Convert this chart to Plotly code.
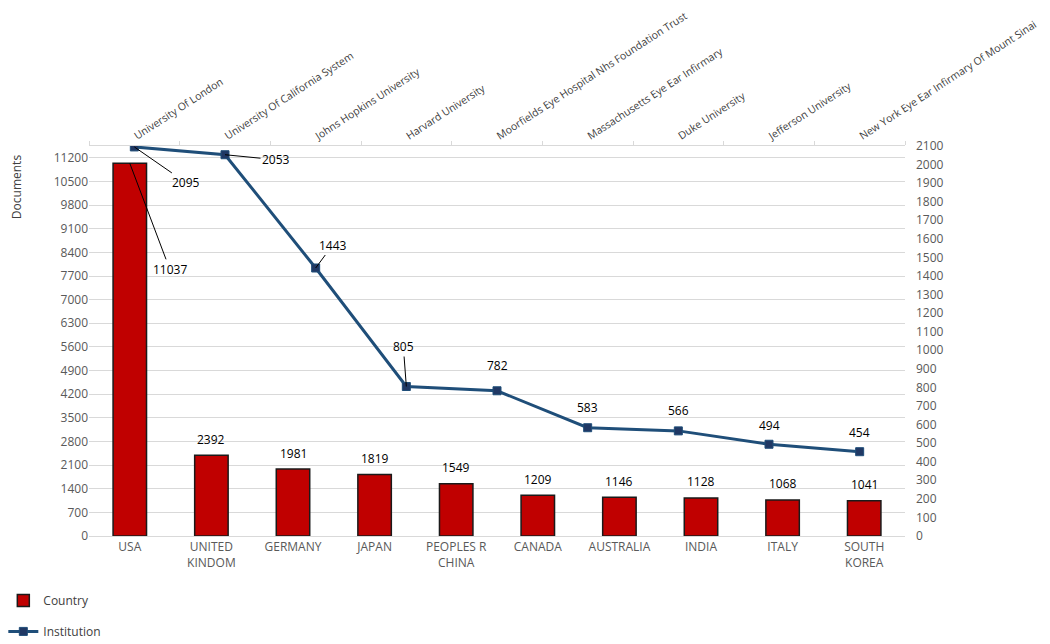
import plotly.graph_objects as go

countries = ["USA", "UNITED<br>KINDOM", "GERMANY", "JAPAN", "PEOPLES R<br>CHINA",
             "CANADA", "AUSTRALIA", "INDIA", "ITALY", "SOUTH<br>KOREA"]
country_docs = [11037, 2392, 1981, 1819, 1549, 1209, 1146, 1128, 1068, 1041]

institutions = ["University Of London", "University Of California System",
                "Johns Hopkins University", "Harvard University",
                "Moorfields Eye Hospital Nhs Foundation Trust",
                "Massachusetts Eye Ear Infirmary", "Duke University",
                "Jefferson University", "New York Eye Ear Infirmary Of Mount Sinai"]
inst_docs = [2095, 2053, 1443, 805, 782, 583, 566, 494, 454]

left_ticks = list(range(0, 11201, 700))
right_ticks = list(range(0, 2101, 100))

FONT = "Open Sans"
GREY = "#595959"

fig = go.Figure()
fig.add_trace(go.Bar(
    x=countries, y=country_docs, name="Country",
    marker=dict(color="#C00000", line=dict(color="#1a1a1a", width=1.5)),
    width=0.41, legendgroup="a",
))
fig.add_trace(go.Scatter(
    x=institutions, y=inst_docs, name="Institution", xaxis="x2", yaxis="y2",
    mode="lines+markers",
    line=dict(color="#1F4E79", width=3),
    marker=dict(symbol="square", size=8, color="#203864", line=dict(color="#1F4E79", width=1)),
    legendgroup="b",
))

ann = []
for i, (c, v) in enumerate(zip(countries, country_docs)):
    if i == 0:
        ann.append(dict(x=c, y=v, xref="x", yref="y", text=str(v), showarrow=True,
                        arrowhead=0, arrowwidth=1, arrowcolor="#000", ax=40, ay=106,
                        font=dict(size=12, color="#000", family=FONT)))
    else:
        ann.append(dict(x=c, y=v, xref="x", yref="y", text=str(v), showarrow=False,
                        yshift=16, font=dict(size=12, color="#000", family=FONT)))

offsets = [(52, 36, True), (51, 5, True), (17, -23, True), (-3, -40, True),
           (0, -25, False), (0, -20, False), (0, -20, False), (0, -19, False), (0, -19, False)]
for (name, v), (ax, ay, arr) in zip(zip(institutions, inst_docs), offsets):
    if arr:
        ann.append(dict(x=name, y=v, xref="x2", yref="y2", text=str(v), showarrow=True,
                        arrowhead=0, arrowwidth=1, arrowcolor="#000", ax=ax, ay=ay,
                        font=dict(size=12, color="#000", family=FONT)))
    else:
        ann.append(dict(x=name, y=v, xref="x2", yref="y2", text=str(v), showarrow=False,
                        yshift=-ay, font=dict(size=12, color="#000", family=FONT)))

ann.append(dict(text="Documents", textangle=-90, xref="paper", yref="paper",
                x=-0.088, y=0.895, showarrow=False, xanchor="center", yanchor="middle",
                font=dict(size=12, color="#404040", family=FONT)))

fig.update_layout(
    width=1050, height=644,
    margin=dict(l=81, r=153, t=138, b=116, autoexpand=False),
    paper_bgcolor="white", plot_bgcolor="white",
    font=dict(family=FONT, size=12, color=GREY),
    xaxis=dict(type="category", showgrid=False, showline=True, linecolor="#D9D9D9",
               ticks="", tickfont=dict(size=12, color=GREY), range=[-0.5, 9.5],
               automargin=False),
    yaxis=dict(range=[0, 11550], tickvals=left_ticks, ticktext=[str(t) for t in left_ticks],
               showgrid=True, gridcolor="#D9D9D9", gridwidth=1, zeroline=False,
               showline=False, tickfont=dict(size=12, color=GREY), automargin=False),
    xaxis2=dict(type="category", overlaying="x", side="top", anchor="y",
                showline=True, linecolor="#D9D9D9", showgrid=False, tickangle=-33,
                ticks="outside", tickson="boundaries", ticklen=4, tickcolor="#D9D9D9",
                tickfont=dict(size=10.5, color="#404040"), range=[-0.5, 8.5],
                automargin=False),
    yaxis2=dict(range=[0, 2100], tickvals=right_ticks, ticktext=[str(t) for t in right_ticks],
                overlaying="y", side="right", showgrid=False, zeroline=False,
                showline=False, tickfont=dict(size=12, color=GREY), automargin=False,
                ticklabelstandoff=10),
    legend=dict(xref="paper", yref="paper", x=-0.105, y=-0.128, yanchor="top",
                xanchor="left", orientation="v", tracegroupgap=12,
                font=dict(size=12, color="#404040", family=FONT)),
    annotations=ann,
    showlegend=True,
)

fig.write_html("out.html")
